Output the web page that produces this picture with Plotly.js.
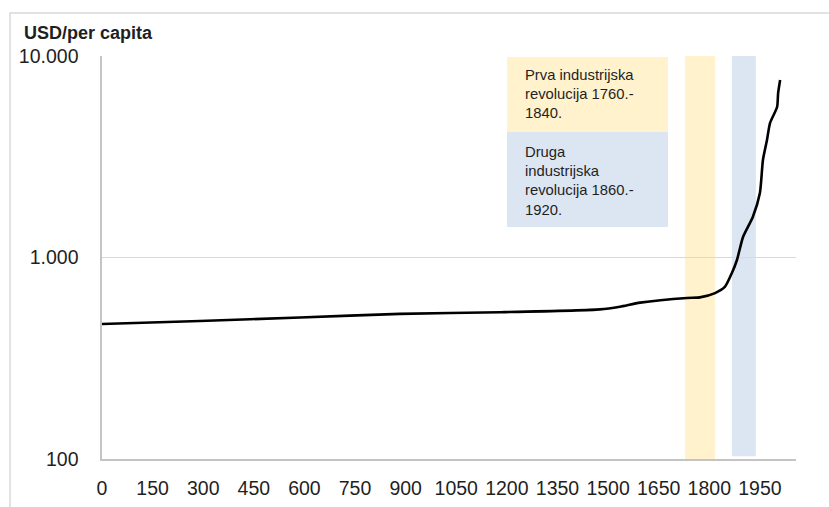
<!DOCTYPE html>
<html>
<head>
<meta charset="utf-8">
<script src="https://cdn.plot.ly/plotly-3.0.1.min.js"></script>
<style>
  html, body { margin: 0; padding: 0; background: #ffffff; }
  #chart { width: 829px; height: 507px; }
</style>
</head>
<body>
<div id="chart"></div>
<script>
// Data
const years = [0, 290, 587, 883, 1180, 1476, 1535, 1595, 1734, 1772, 1817, 1846, 1867, 1882, 1900, 1929, 1950, 1959, 1971, 1980, 2001, 2004, 2010];
const gdpPerCapita = [468, 484, 504, 525, 535, 553, 570, 597, 630, 634, 666, 714, 838, 972, 1265, 1589, 2089, 3048, 3830, 4646, 5585, 6546, 7605];

const xTickVals = [0, 150, 300, 450, 600, 750, 900, 1050, 1200, 1350, 1500, 1650, 1800, 1950];
const yTickVals = [100, 1000, 10000];
const yTickText = ["100", "1.000", "10.000"];

const firstRevolution = [1728, 1817];
const secondRevolution = [1867, 1938];
const firstLabel = "Prva industrijska<br>revolucija 1760.-<br>1840.";
const secondLabel = "Druga<br>industrijska<br>revolucija 1860.-<br>1920.";
const yAxisLabel = "USD/per capita";

const FONT = "Liberation Sans, Arial, sans-serif";
const TEXT = "#1f1f1f";
const YELLOW = "#fff2cc";
const BLUE = "#dce6f2";

const trace = {
  x: years,
  y: gdpPerCapita,
  type: "scatter",
  mode: "lines",
  line: { color: "#000000", width: 2.6, shape: "spline", smoothing: 0.6 },
  hoverinfo: "x+y"
};

const layout = {
  width: 829,
  height: 507,
  margin: { l: 102, r: 33, t: 56, b: 48 },
  paper_bgcolor: "#ffffff",
  plot_bgcolor: "#ffffff",
  showlegend: false,
  font: { family: FONT, size: 18, color: TEXT },
  xaxis: {
    range: [0, 2057],
    tickvals: xTickVals,
    ticktext: xTickVals.map(String),
    showgrid: false,
    zeroline: false,
    showline: true,
    linecolor: "#c4c4c4",
    linewidth: 1.6,
    ticks: "",
    ticklabelstandoff: 11,
    tickfont: { family: FONT, size: 19.5, color: TEXT }
  },
  yaxis: {
    type: "log",
    range: [2, 4],
    tickvals: yTickVals,
    ticktext: yTickText,
    showgrid: true,
    gridcolor: "#d9d9d9",
    gridwidth: 1,
    zeroline: false,
    showline: true,
    linecolor: "#c4c4c4",
    linewidth: 1.6,
    ticks: "",
    ticklabelstandoff: 18,
    tickfont: { family: FONT, size: 19.5, color: TEXT }
  },
  shapes: [
    // outer frame
    { type: "rect", xref: "paper", yref: "paper", x0: -0.1326, x1: 1.2, y0: -0.3, y1: 1.1067,
      line: { color: "#d9d9d9", width: 1.5 }, fillcolor: "rgba(0,0,0,0)", layer: "below" },
    // revolution bands
    { type: "rect", xref: "x", yref: "paper", x0: firstRevolution[0], x1: firstRevolution[1], y0: 0, y1: 1,
      fillcolor: YELLOW, line: { width: 0 }, layer: "below" },
    { type: "rect", xref: "x", yref: "paper", x0: secondRevolution[0], x1: secondRevolution[1], y0: 0.007, y1: 1,
      fillcolor: BLUE, line: { width: 0 }, layer: "below" },
    // legend boxes
    { type: "rect", xref: "paper", yref: "paper", x0: 0.5836, x1: 0.8156, y0: 0.8114, y1: 0.9975,
      fillcolor: YELLOW, line: { width: 0 }, layer: "above" },
    { type: "rect", xref: "paper", yref: "paper", x0: 0.5836, x1: 0.8156, y0: 0.5757, y1: 0.8114,
      fillcolor: BLUE, line: { width: 0 }, layer: "above" }
  ],
  annotations: [
    { xref: "paper", yref: "paper", x: -0.1153, y: 1.057, xanchor: "left", yanchor: "middle",
      text: "<b>" + yAxisLabel + "</b>", showarrow: false,
      font: { family: FONT, size: 18, color: TEXT } },
    { xref: "paper", yref: "paper", x: 0.6066, y: 0.978, xanchor: "left", yanchor: "top", align: "left",
      text: firstLabel, showarrow: false,
      font: { family: FONT, size: 14.8, color: TEXT } },
    { xref: "paper", yref: "paper", x: 0.6066, y: 0.786, xanchor: "left", yanchor: "top", align: "left",
      text: secondLabel, showarrow: false,
      font: { family: FONT, size: 14.8, color: TEXT } }
  ]
};

Plotly.newPlot("chart", [trace], layout, { displayModeBar: false, staticPlot: true });
</script>
</body>
</html>
